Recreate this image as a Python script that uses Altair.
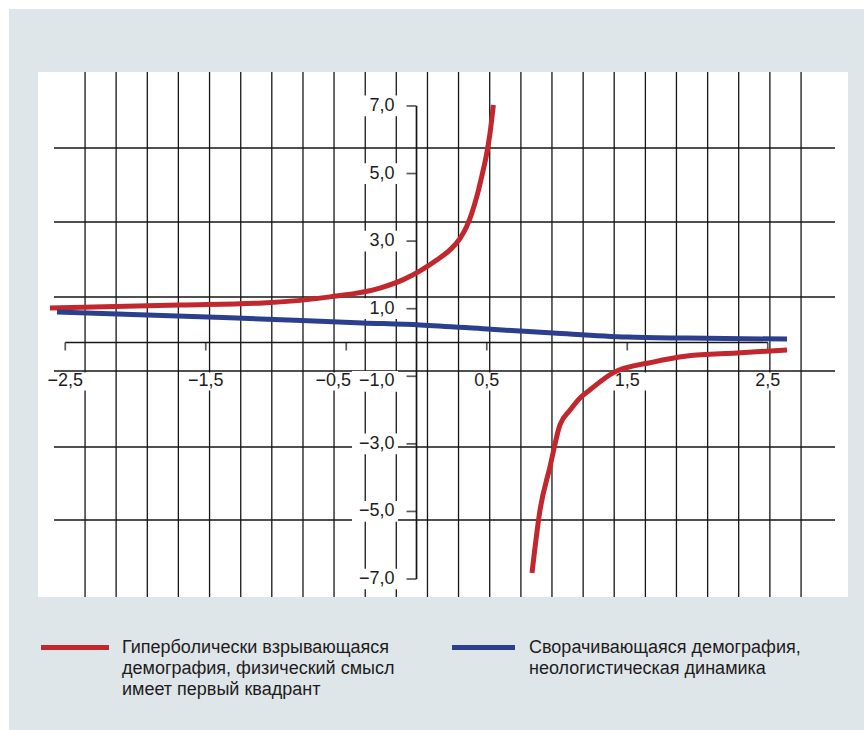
import altair as alt
import pandas as pd

# ---------------- data ----------------
red_left_x = [-2.609, -1.683, -1.093, -0.616, -0.260, -0.094, 0.025, 0.144, 0.238, 0.310,
              0.357, 0.393, 0.428, 0.464, 0.500, 0.523, 0.547]
red_left_y = [1.02, 1.11, 1.17, 1.35, 1.61, 1.86, 2.12, 2.44, 2.74, 3.08,
              3.43, 3.82, 4.30, 4.91, 5.60, 6.19, 7.03]
red_right_x = [0.822, 0.879, 0.950, 1.021, 1.093, 1.164, 1.235, 1.399, 1.683, 1.925, 2.281, 2.637]
red_right_y = [-6.82, -4.96, -3.68, -2.44, -2.00, -1.64, -1.40, -0.90, -0.58, -0.40, -0.31, -0.22]
blue_x = [-2.559, -1.327, -0.381, 0.025, 0.502, 0.972, 1.498, 1.925, 2.637]
blue_y = [0.90, 0.73, 0.58, 0.52, 0.40, 0.28, 0.16, 0.13, 0.10]

series_names = [
    "Гиперболически взрывающаяся демография, физический смысл имеет первый квадрант",
    "Сворачивающаяся демография, неологистическая динамика",
]
legend_lines_red = ["Гиперболически взрывающаяся", "демография, физический смысл", "имеет первый квадрант"]
legend_lines_blue = ["Сворачивающаяся демография,", "неологистическая динамика"]

x_tick_values = [-2.5, -1.5, -0.5, 0.5, 1.5, 2.5]
x_tick_labels = ["−2,5", "−1,5", "−0,5", "0,5", "1,5", "2,5"]
y_tick_values = [7, 5, 3, 1, -1, -3, -5, -7]
y_tick_labels = ["7,0", "5,0", "3,0", "1,0", "−1,0", "−3,0", "−5,0", "−7,0"]

grid_x = [-2.359, -2.138, -1.916, -1.695, -1.473, -1.251, -1.030, -0.808, -0.587,
          -0.365, -0.144, 0.078, 0.299, 0.521, 0.743, 0.964, 1.186, 1.407, 1.629,
          1.850, 2.072, 2.293, 2.515, 2.737]
grid_y = [5.756, 3.566, 1.347, -0.843, -3.093, -5.253]

# ---------------- styling ----------------
RED = "#c1272d"
BLUE = "#2b3f8e"
BG = "#dfe6e9"
INK = "#161616"
TXT = "#1e1b1c"
FONT = "Liberation Sans"
FS = 18
W, H = 810, 525

xs = alt.Scale(domain=[-2.694, 3.071], nice=False, zero=False)
ys = alt.Scale(domain=[-7.532, 8.005], nice=False, zero=False)

one = pd.DataFrame({"a": [0]})

bg = alt.Chart(one).mark_rect(color=BG).encode(
    x=alt.value(-29), x2=alt.value(826), y=alt.value(-63), y2=alt.value(658))
panel = alt.Chart(one).mark_rect(color="white").encode(
    x=alt.value(0), x2=alt.value(W), y=alt.value(0), y2=alt.value(H))

vgrid = alt.Chart(pd.DataFrame({"gx": grid_x})).mark_rule(color=INK, strokeWidth=1.3).encode(
    x=alt.X("gx:Q", scale=xs, axis=None), y=alt.value(0), y2=alt.value(H))
hgrid = alt.Chart(pd.DataFrame({"gy": grid_y})).mark_rule(color=INK, strokeWidth=1.3).encode(
    y=alt.Y("gy:Q", scale=ys, axis=None), x=alt.value(16), x2=alt.value(797))

xlab_df = pd.DataFrame({"v": x_tick_values, "t": x_tick_labels, "z": [0] * len(x_tick_values)})
ylab_df = pd.DataFrame({"v": y_tick_values, "t": y_tick_labels, "z": [0] * len(y_tick_values)})

X_ENC = dict(x=alt.X("v:Q", scale=xs, axis=None), y=alt.Y("z:Q", scale=ys, axis=None))
Y_ENC = dict(x=alt.X("z:Q", scale=xs, axis=None), y=alt.Y("v:Q", scale=ys, axis=None))

# the "−0,5" label sits a little left of its tick, the "−1,0" label a little lower (as in the reference)
x_shift = {"-0.5": -13}
y_shift = {"-1": 5}


def xlabel_layers():
    layers = []
    normal = "datum.v != -0.5"
    shifted = "datum.v == -0.5"
    for flt, dx in [(normal, 0), (shifted, x_shift["-0.5"])]:
        base = alt.Chart(xlab_df).transform_filter(flt)
        layers.append(base.mark_point(
            shape="M-1,-0.41H1V0.41H-1Z", filled=True, color="white", opacity=1, size=1936,
            yOffset=39, xOffset=dx).encode(**X_ENC))
        layers.append(base.mark_text(
            font=FONT, fontSize=FS, color=TXT, align="center", baseline="middle", dy=39, dx=dx
        ).encode(text="t:N", **X_ENC))
    return layers


def ylabel_layers():
    layers = []
    normal = "datum.v != -1"
    shifted = "datum.v == -1"
    for flt, dy in [(normal, 0), (shifted, y_shift["-1"])]:
        base = alt.Chart(ylab_df).transform_filter(flt)
        layers.append(base.mark_point(
            shape="M-1,-0.45H1V0.45H-1Z", filled=True, color="white", opacity=1, size=2116,
            xOffset=-41.5, yOffset=dy).encode(**Y_ENC))
        layers.append(base.mark_text(
            font=FONT, fontSize=FS, color=TXT, align="right", baseline="middle", dx=-22, dy=dy
        ).encode(text="t:N", **Y_ENC))
    return layers


xaxis_df = pd.DataFrame({"x1": [min(x_tick_values)], "x2": [max(x_tick_values)], "y": [0]})
yaxis_df = pd.DataFrame({"y1": [min(y_tick_values)], "y2": [max(y_tick_values)], "x": [0]})
xaxis = alt.Chart(xaxis_df).mark_rule(color=INK, strokeWidth=1.7).encode(
    x=alt.X("x1:Q", scale=xs, axis=None), x2="x2:Q", y=alt.Y("y:Q", scale=ys, axis=None))
yaxis = alt.Chart(yaxis_df).mark_rule(color=INK, strokeWidth=1.7).encode(
    y=alt.Y("y1:Q", scale=ys, axis=None), y2="y2:Q", x=alt.X("x:Q", scale=xs, axis=None))

xticks = alt.Chart(xlab_df).mark_tick(orient="vertical", size=8, thickness=1.7, yOffset=4, color=INK).encode(**X_ENC)
yticks = alt.Chart(ylab_df).mark_tick(orient="horizontal", size=10, thickness=1.7, xOffset=-5, color=INK).encode(**Y_ENC)

curves_df = pd.concat([
    pd.DataFrame({"x": red_left_x, "y": red_left_y, "series": series_names[0], "branch": "a"}),
    pd.DataFrame({"x": red_right_x, "y": red_right_y, "series": series_names[0], "branch": "b"}),
    pd.DataFrame({"x": blue_x, "y": blue_y, "series": series_names[1], "branch": "c"}),
], ignore_index=True)

color_scale = alt.Scale(domain=series_names, range=[RED, BLUE])
curves = alt.Chart(curves_df).mark_line(strokeWidth=5, interpolate="monotone", strokeCap="butt").encode(
    x=alt.X("x:Q", scale=xs, axis=None),
    y=alt.Y("y:Q", scale=ys, axis=None),
    color=alt.Color("series:N", scale=color_scale, legend=None),
    detail="branch:N",
)

# ---------------- manual legend below the plot ----------------
leg_red_sym = alt.Chart(one).mark_rule(color=RED, strokeWidth=5).encode(
    x=alt.value(3), x2=alt.value(71), y=alt.value(575.5))
leg_red_txt = alt.Chart(one).mark_text(
    font=FONT, fontSize=FS, color=TXT, align="left", baseline="alphabetic", lineHeight=21,
    text=legend_lines_red).encode(x=alt.value(84), y=alt.value(581))
leg_blue_sym = alt.Chart(one).mark_rule(color=BLUE, strokeWidth=5).encode(
    x=alt.value(414), x2=alt.value(477), y=alt.value(575.5))
leg_blue_txt = alt.Chart(one).mark_text(
    font=FONT, fontSize=FS, color=TXT, align="left", baseline="alphabetic", lineHeight=21,
    text=legend_lines_blue).encode(x=alt.value(491), y=alt.value(581))

chart = alt.layer(
    bg, panel, vgrid, hgrid, xaxis, yaxis, *xlabel_layers(), *ylabel_layers(), xticks, yticks,
    curves, leg_red_sym, leg_red_txt, leg_blue_sym, leg_blue_txt
).properties(
    width=W, height=H,
    padding={"left": 38, "top": 72, "right": 16, "bottom": 133},
    autosize=alt.AutoSizeParams(type="none"),
    background="white",
).configure_view(stroke=None)

chart.save("out.html", embed_options={"renderer": "svg", "actions": False})
